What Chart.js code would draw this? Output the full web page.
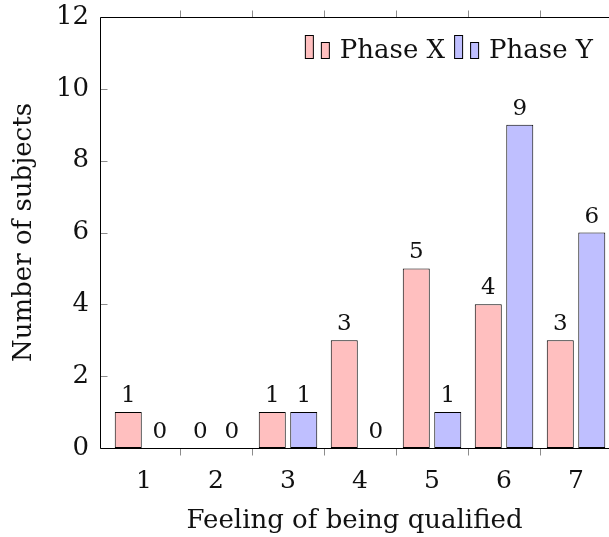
<!DOCTYPE html>
<html>
<head>
<meta charset="utf-8">
<script src="https://cdn.jsdelivr.net/npm/chart.js@4.4.0/dist/chart.umd.min.js"></script>
<style>
  html, body { margin: 0; padding: 0; background: #fff; overflow: hidden; }
  canvas { display: block; }
</style>
</head>
<body>
<canvas id="chart" width="609" height="537"></canvas>
<script>
// Data
const categories = [1, 2, 3, 4, 5, 6, 7];
const phaseX = [1, 0, 1, 3, 5, 4, 3];
const phaseY = [0, 0, 1, 0, 1, 9, 6];
const yTicks = [0, 2, 4, 6, 8, 10, 12];
const xTickMarks = [1.5, 2.5, 3.5, 4.5, 5.5, 6.5];

const red = '#ffbfbf';
const blue = '#bfbfff';
const edge = '#000';
const serif = '"DejaVu Serif", serif';

Chart.defaults.font.family = serif;
Chart.defaults.font.size = 26;
Chart.defaults.color = '#111';

// Legend icon: two small bars like the pgfplots ybar legend
function drawLegendIcon(ctx, x, yMid, fill) {
    ctx.fillStyle = fill;
    ctx.strokeStyle = edge;
    ctx.lineWidth = 1;
    const base = Math.round(yMid + 10) + 0.5;
    ctx.fillRect(x + 0.5, base - 23, 8, 23);
    ctx.strokeRect(x + 0.5, base - 23, 8, 23);
    ctx.fillRect(x + 16.5, base - 16, 8, 16);
    ctx.strokeRect(x + 16.5, base - 16, 8, 16);
}

// Frame (the right side falls just outside the picture), tick marks, legend, value labels
const frameAndLabels = {
    id: 'frameAndLabels',
    afterDatasetsDraw(chart) {
        const { ctx, chartArea: a, scales: { x, y } } = chart;
        const left = Math.round(a.left) + 0.5;
        const top = Math.round(a.top) + 0.5;
        const bottom = Math.round(a.bottom) + 0.5;
        ctx.save();
        ctx.lineWidth = 1;
        ctx.strokeStyle = '#8c8c8c';
        ctx.beginPath();
        xTickMarks.forEach((v) => {
            const px = Math.round(x.getPixelForValue(v)) + 0.5;
            ctx.moveTo(px, bottom);
            ctx.lineTo(px, bottom + 7);
            ctx.moveTo(px, top);
            ctx.lineTo(px, top - 7);
        });
        yTicks.forEach((v) => {
            const py = Math.round(y.getPixelForValue(v)) + 0.5;
            ctx.moveTo(left, py);
            ctx.lineTo(left + 7, py);
        });
        ctx.stroke();

        ctx.strokeStyle = edge;
        ctx.beginPath();
        ctx.moveTo(a.right, top);
        ctx.lineTo(left, top);
        ctx.lineTo(left, bottom);
        ctx.lineTo(a.right, bottom);
        ctx.stroke();

        // value labels above bars
        ctx.fillStyle = '#111';
        ctx.font = '23px ' + serif;
        ctx.textAlign = 'center';
        ctx.textBaseline = 'alphabetic';
        chart.data.datasets.forEach((ds, i) => {
            chart.getDatasetMeta(i).data.forEach((bar, j) => {
                ctx.fillText(String(ds.data[j].y), bar.x, bar.y - 10);
            });
        });

        // legend, top right inside the plot
        ctx.font = '26px ' + serif;
        ctx.textAlign = 'left';
        const yMid = a.top + 31;
        let cursor = 593;
        for (let i = chart.data.datasets.length - 1; i >= 0; i--) {
            const ds = chart.data.datasets[i];
            const w = ctx.measureText(ds.label).width;
            cursor -= w;
            ctx.fillStyle = '#111';
            ctx.fillText(ds.label, cursor, yMid + 10);
            cursor -= 10 + 25;
            drawLegendIcon(ctx, cursor, yMid, ds.backgroundColor);
            cursor -= 9;
        }
        ctx.restore();
    }
};

new Chart(document.getElementById('chart'), {
    type: 'bar',
    data: {
        datasets: [{
            label: 'Phase X',
            data: categories.map((c, i) => ({ x: c, y: phaseX[i] })),
            backgroundColor: red,
            borderColor: edge,
            borderWidth: 1,
            borderSkipped: false,
        }, {
            label: 'Phase Y',
            data: categories.map((c, i) => ({ x: c, y: phaseY[i] })),
            backgroundColor: blue,
            borderColor: edge,
            borderWidth: 1,
            borderSkipped: false,
        }],
    },
    options: {
        responsive: false,
        animation: false,
        categoryPercentage: 0.875,
        barPercentage: 0.857,
        layout: { padding: { top: 17, right: 0, left: 0, bottom: 0 } },
        plugins: {
            legend: { display: false },
            tooltip: { enabled: false },
        },
        scales: {
            x: {
                type: 'linear',
                offset: false,
                min: 0.389,
                max: 7.458,
                afterBuildTicks: (scale) => {
                    scale.ticks = categories.map((v) => ({ value: v }));
                },
                afterFit: (scale) => {
                    scale.height = 89;
                    scale.paddingLeft = 0;
                    scale.paddingRight = 0;
                },
                grid: { display: false },
                border: { display: false },
                ticks: { padding: 10, font: { size: 25 }, maxRotation: 0 },
                title: {
                    display: true,
                    text: 'Feeling of being qualified',
                    padding: { top: 0, bottom: 0 },
                },
            },
            y: {
                min: 0,
                max: 12,
                afterBuildTicks: (scale) => {
                    scale.ticks = yTicks.map((v) => ({ value: v }));
                },
                afterFit: (scale) => {
                    scale.width = 100;
                    scale.paddingTop = 0;
                    scale.paddingBottom = 0;
                },
                grid: { display: false },
                border: { display: false },
                ticks: { padding: 3 },
                title: {
                    display: true,
                    text: 'Number of subjects',
                    padding: { top: 9, bottom: 0 },
                },
            },
        },
    },
    plugins: [frameAndLabels],
});
</script>
</body>
</html>
